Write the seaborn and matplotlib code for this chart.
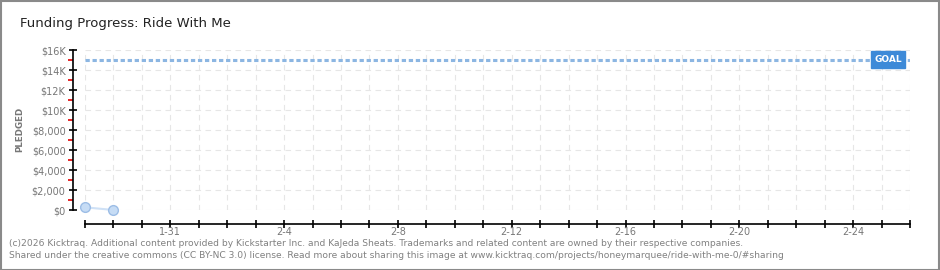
import matplotlib
matplotlib.use("Agg")
import matplotlib.pyplot as plt
from matplotlib.patches import Rectangle
import seaborn as sns
import pandas as pd
import numpy as np

title = "Funding Progress: Ride With Me"
dates = ["2026-01-28", "2026-01-29"]
pledged = [270, 0]
goal = 15000
x_start = "2026-01-28"
x_end = "2026-02-26"
y_ticks = [0, 2000, 4000, 6000, 8000, 10000, 12000, 14000, 16000]
y_labels = ["$0", "$2,000", "$4,000", "$6,000", "$8,000", "$10K", "$12K", "$14K", "$16K"]
footer1 = ("(c)2026 Kicktraq. Additional content provided by Kickstarter Inc. and KaJeda Sheats. "
           "Trademarks and related content are owned by their respective companies.")
footer2 = ("Shared under the creative commons (CC BY-NC 3.0) license. Read more about sharing this image at "
           "www.kicktraq.com/projects/honeymarquee/ride-with-me-0/#sharing")

sns.set_theme(style="white")
plt.rcParams['font.family'] = ['DejaVu Sans']

W, H = 940, 270
fig = plt.figure(figsize=(W / 100, H / 100), dpi=100)
fig.patch.set_facecolor("white")

ax = fig.add_axes([85 / W, 1 - 210 / H, (910 - 85) / W, (210 - 50) / H])
ax.set_facecolor("white")

df = pd.DataFrame({"date": pd.to_datetime(dates), "pledged": pledged})

x0 = pd.Timestamp(x_start)
x1 = pd.Timestamp(x_end)
ax.set_xlim(x0, x1)
ax.set_ylim(0, 16000)

day_ticks = pd.date_range(x0, x1, freq="D")
for d in day_ticks:
    ax.axvline(d, color="#e6e6e6", lw=0.8, ls=(0, (5, 4)), zorder=0)
for yv in y_ticks:
    ax.axhline(yv, color="#e6e6e6", lw=0.8, ls=(0, (5, 4)), zorder=0)

ax.plot([x0, x1], [goal, goal], color="#8cb6e2", lw=2.2, ls=(0, (1.4, 0.9)), zorder=2,
        solid_capstyle="butt", dash_capstyle="butt")

sns.lineplot(data=df, x="date", y="pledged", ax=ax, color="#cfe1f6", lw=1.5,
             marker="o", markersize=7, markerfacecolor="#c6dcf5",
             markeredgecolor="#9cbde6", markeredgewidth=1, zorder=3, clip_on=False)

ax.annotate("GOAL", xy=(1, goal), xycoords=("axes fraction", "data"),
            xytext=(-22, 0.5), textcoords="offset pixels",
            ha="center", va="center", fontsize=6.5, color="white", fontweight="bold",
            bbox=dict(boxstyle="square,pad=0.4", fc="#3d8ad8", ec="#3d8ad8"), zorder=5)

for s in ["top", "right"]:
    ax.spines[s].set_visible(False)
ax.spines["left"].set_position(("outward", 9))
ax.spines["bottom"].set_position(("outward", 10))
for s in ["left", "bottom"]:
    ax.spines[s].set_color("black")
    ax.spines[s].set_linewidth(1.2)

ax.set_yticks(y_ticks)
ax.set_yticklabels(y_labels)
ax.set_yticks(np.arange(1000, 16000, 2000), minor=True)
ax.tick_params(axis="y", which="major", direction="inout", length=6, width=1.2,
               color="black", labelsize=7, labelcolor="#777777", pad=2, left=True)
ax.tick_params(axis="y", which="minor", direction="out", length=3.5, width=1.2,
               color="#e00000", left=True)

ax.set_xticks(day_ticks)
labels = [(d.strftime("%-m-%-d") if (i % 4 == 3) else "") for i, d in enumerate(day_ticks)]
ax.set_xticklabels(labels)
ax.tick_params(axis="x", which="major", direction="inout", length=6, width=1.2,
               color="black", labelsize=7, labelcolor="#777777", pad=-1, bottom=True)
ax.set_xlabel("")
ax.set_ylabel("")
fig.text(20 / W, 1 - 129 / H, "PLEDGED", rotation=90, ha="center", va="center",
         fontsize=6.3, color="#777777", fontweight="bold")

fig.text(20 / W, 1 - 24 / H, title, ha="left", va="center", fontsize=9.5, color="#222222")

fig.text(9 / W, 1 - 243 / H, footer1, ha="left", va="center", fontsize=6.6, color="#808080")
fig.text(9 / W, 1 - 256 / H, footer2, ha="left", va="center", fontsize=6.6, color="#808080")

fig.patches.append(Rectangle((0.5 / W, 0.5 / H), (W - 1.5) / W, (H - 1.5) / H,
                             transform=fig.transFigure, fill=False, ec="#8a8a8a", lw=1.5))

fig.savefig("out.png", dpi=100, facecolor="white")
